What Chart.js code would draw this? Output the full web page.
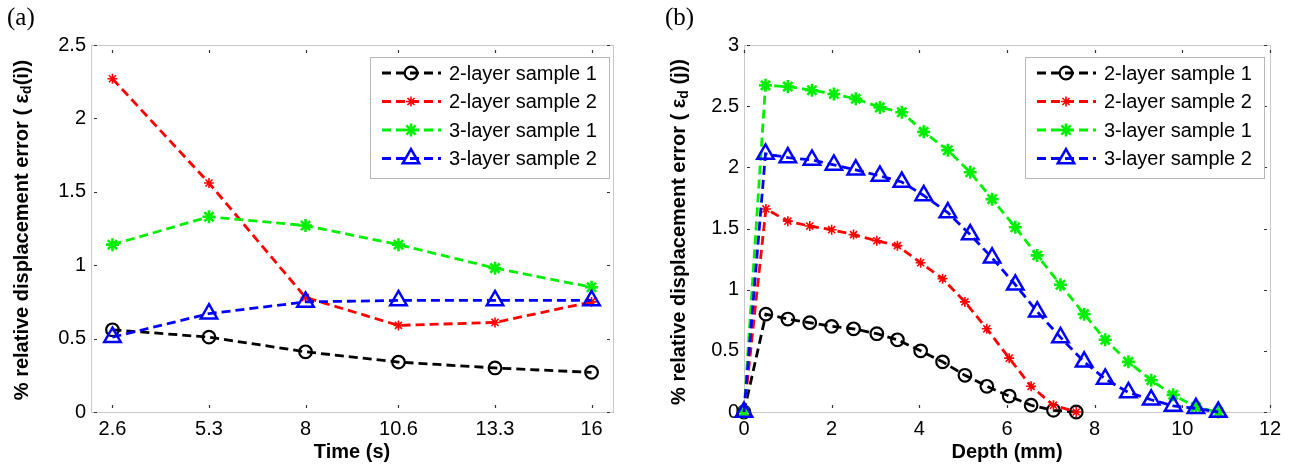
<!DOCTYPE html>
<html><head><meta charset="utf-8">
<script src="https://cdn.jsdelivr.net/npm/chart.js@4/dist/chart.umd.min.js"></script>
<style>
html,body{margin:0;padding:0;background:#fff;}
#wrap{position:relative;width:1296px;height:472px;overflow:hidden;}
.box{position:absolute;top:0;width:648px;height:472px;}
</style></head><body>
<div id="wrap">
<div class="box" style="left:0"><canvas id="ca" width="648" height="472"></canvas></div>
<div class="box" style="left:648px"><canvas id="cb" width="648" height="472"></canvas></div>
</div>
<script>
// ---------- data ----------
const seriesNames = ['2-layer sample 1', '2-layer sample 2', '3-layer sample 1', '3-layer sample 2'];

// (a) error vs time
const timeCategories = [2.6, 5.3, 8, 10.6, 13.3, 16];
const timeTickLabels = ['2.6', '5.3', '8', '10.6', '13.3', '16'];
const timeBlack = [0.56, 0.51, 0.41, 0.34, 0.30, 0.27];
const timeRed   = [2.27, 1.56, 0.78, 0.59, 0.61, 0.75];
const timeGreen = [1.14, 1.33, 1.27, 1.14, 0.98, 0.85];
const timeBlue  = [0.51, 0.67, 0.75, 0.76, 0.76, 0.76];

// (b) error vs depth
const depth2Layer = [0, 0.5, 1.0, 1.5, 2.0, 2.5, 3.03, 3.5, 4.03, 4.53, 5.04, 5.54, 6.05, 6.55, 7.06, 7.58];
const depth3Layer = [0, 0.49, 1.0, 1.55, 2.05, 2.55, 3.1, 3.6, 4.1, 4.65, 5.16, 5.66, 6.19, 6.69, 7.22, 7.76, 8.24, 8.77, 9.29, 9.79, 10.31, 10.82];
const depthBlack = [0, 0.80, 0.76, 0.73, 0.70, 0.68, 0.64, 0.59, 0.50, 0.41, 0.30, 0.21, 0.13, 0.055, 0.014, 0.0];
const depthRed   = [0, 1.66, 1.56, 1.52, 1.49, 1.45, 1.40, 1.36, 1.22, 1.09, 0.90, 0.68, 0.44, 0.21, 0.055, 0.0];
const depthGreen = [0, 2.67, 2.66, 2.63, 2.60, 2.56, 2.49, 2.45, 2.29, 2.14, 1.96, 1.74, 1.51, 1.28, 1.04, 0.80, 0.59, 0.41, 0.26, 0.14, 0.04, 0.0];
const depthBlue  = [0, 2.11, 2.08, 2.06, 2.02, 1.98, 1.93, 1.88, 1.77, 1.63, 1.45, 1.26, 1.04, 0.82, 0.61, 0.41, 0.27, 0.16, 0.10, 0.05, 0.03, 0.0];

const xTitleA = 'Time (s)';
const xTitleB = 'Depth (mm)';
const yTitleA = [{t: '% relative displacement error ( \u03B5'}, {t: 'd', sub: true}, {t: '(i))'}];
const yTitleB = [{t: '% relative displacement error ( \u03B5'}, {t: 'd', sub: true}, {t: ' (j))'}];
const panelA = '(a)';
const panelB = '(b)';

// ---------- styling ----------
const FONT = "'Liberation Sans', Arial, Helvetica, sans-serif";
const SERIF = "'Liberation Serif', 'Times New Roman', serif";
const styles = [
  {color: '#000000', pointStyle: 'circle',   radius: 6.3, pbw: 2.2, fill: 'rgba(0,0,0,0)', order: 4},
  {color: '#ff0000', pointStyle: 'star',     radius: 5,   pbw: 1.6, fill: 'rgba(0,0,0,0)', order: 3},
  {color: '#00ee00', pointStyle: 'star',     radius: 6.5, pbw: 2.6, fill: 'rgba(0,0,0,0)', order: 2},
  {color: '#0000ff', pointStyle: 'triangle', radius: 9.5, pbw: 2.5, fill: 'rgba(0,0,0,0)', order: 1}
];

function mkDataset(i, xs, ys) {
  const s = styles[i];
  return {
    label: seriesNames[i],
    data: xs.map((x, k) => ({x: x, y: ys[k]})),
    borderColor: s.color, backgroundColor: s.color,
    borderWidth: 2.8, borderDash: [9, 5], tension: 0,
    pointStyle: s.pointStyle, pointRadius: s.radius,
    pointBorderWidth: s.pbw, pointBorderColor: s.color, pointBackgroundColor: s.fill,
    order: s.order, clip: false
  };
}

function drawRich(ctx, parts, cx, cy) {
  ctx.save();
  ctx.translate(cx, cy);
  ctx.rotate(-Math.PI / 2);
  const big = 'bold 20px ' + FONT, small = 'bold 14px ' + FONT;
  const widths = parts.map(p => { ctx.font = p.sub ? small : big; return ctx.measureText(p.t).width; });
  const total = widths.reduce((a, b) => a + b, 0);
  let x = -total / 2;
  ctx.textBaseline = 'middle';
  ctx.fillStyle = '#000';
  parts.forEach((p, i) => {
    ctx.font = p.sub ? small : big;
    ctx.fillText(p.t, x, p.sub ? 5 : 0);
    x += widths[i];
  });
  ctx.restore();
}

const decor = {
  id: 'decor',
  beforeDatasetsDraw(chart, args, o) {
    const {ctx, chartArea: a, scales} = chart;
    ctx.save();
    ctx.strokeStyle = '#c8c8c8';
    ctx.lineWidth = 1;
    ctx.strokeRect(Math.round(a.left) + 0.5, Math.round(a.top) + 0.5, Math.round(a.right - a.left), Math.round(a.bottom - a.top));
    ctx.strokeStyle = '#333';
    ctx.lineWidth = 1.2;
    ctx.beginPath();
    scales.x.ticks.forEach(t => {
      const px = Math.round(scales.x.getPixelForValue(t.value)) + 0.5;
      ctx.moveTo(px, a.bottom - 4); ctx.lineTo(px, a.bottom - 7);
      ctx.moveTo(px, a.top + 5); ctx.lineTo(px, a.top + 8);
    });
    scales.y.ticks.forEach(t => {
      const py = Math.round(scales.y.getPixelForValue(t.value)) + 0.5;
      ctx.moveTo(a.left + 3, py); ctx.lineTo(a.left + 6, py);
      ctx.moveTo(a.right - 3, py); ctx.lineTo(a.right - 6, py);
    });
    ctx.stroke();
    ctx.restore();
  },
  afterDraw(chart, args, o) {
    const {ctx, chartArea: a} = chart;
    // legend
    const w = 239, h = 121;
    const x0 = Math.round(a.right - o.legendRight - w), y0 = Math.round(a.top + 12);
    ctx.save();
    ctx.fillStyle = '#fff';
    ctx.fillRect(x0, y0, w, h);
    ctx.strokeStyle = '#b8b8b8';
    ctx.lineWidth = 1;
    ctx.strokeRect(x0 + 0.5, y0 + 0.5, w, h);
    chart.data.datasets.forEach((d, i) => {
      const y = y0 + 16 + i * 28.5;
      ctx.save();
      ctx.strokeStyle = d.borderColor;
      ctx.lineWidth = d.borderWidth;
      ctx.setLineDash(d.borderDash);
      ctx.beginPath(); ctx.moveTo(x0 + 12, y); ctx.lineTo(x0 + 71, y); ctx.stroke();
      ctx.setLineDash([]);
      ctx.fillStyle = d.pointBackgroundColor;
      ctx.strokeStyle = d.pointBorderColor;
      ctx.lineWidth = d.pointBorderWidth;
      Chart.helpers.drawPoint(ctx, {pointStyle: d.pointStyle, radius: d.pointRadius, rotation: 0, borderWidth: d.pointBorderWidth}, x0 + 41, y);
      ctx.restore();
      ctx.fillStyle = '#000';
      ctx.font = '20px ' + FONT;
      ctx.textBaseline = 'middle';
      ctx.textAlign = 'left';
      ctx.fillText(d.label, x0 + 79, y + 1);
    });
    // y title
    drawRich(ctx, o.yTitle, o.yTitleX, o.yTitleY);
    // panel label
    ctx.fillStyle = '#000';
    ctx.font = '25px ' + SERIF;
    ctx.textBaseline = 'middle';
    ctx.textAlign = 'left';
    ctx.fillText(o.panel, o.panelX, 18);
    ctx.restore();
  }
};

function makeChart(id, cfg) {
  return new Chart(document.getElementById(id), {
    type: 'line',
    data: {datasets: cfg.datasets},
    plugins: [decor],
    options: {
      responsive: false, animation: false,
      layout: {padding: {left: 0, right: cfg.padRight, top: 45, bottom: 0}},
      plugins: {
        legend: {display: false}, tooltip: {enabled: false},
        decor: cfg.decor
      },
      scales: {
        x: {
          type: 'linear', min: cfg.xMin, max: cfg.xMax,
          afterFit: s => { s.height = 60; },
          afterBuildTicks: cfg.xTicks,
          grid: {display: false, drawTicks: false}, border: {display: false},
          ticks: {color: '#000', font: {family: FONT, size: 20}, padding: 5, maxRotation: 0, autoSkip: false, callback: cfg.xLabel, stepSize: cfg.xStep},
          title: {display: true, text: cfg.xTitle, color: '#000', font: {family: FONT, size: 20, weight: 'bold'}, padding: {top: 0, bottom: 8}}
        },
        y: {
          min: 0, max: cfg.yMax,
          afterFit: s => { s.width = cfg.yWidth; },
          grid: {display: false, drawTicks: false}, border: {display: false},
          ticks: {color: '#000', font: {family: FONT, size: 20}, padding: 5, stepSize: 0.5,
                  callback: v => String(Math.round(v * 10) / 10)}
        }
      }
    }
  });
}

makeChart('ca', {
  datasets: [
    mkDataset(0, timeCategories, timeBlack),
    mkDataset(1, timeCategories, timeRed),
    mkDataset(2, timeCategories, timeGreen),
    mkDataset(3, timeCategories, timeBlue)
  ],
  padRight: 35, yWidth: 91, xMin: 2, xMax: 16.6, yMax: 2.5, xStep: undefined,
  xTicks: s => { s.ticks = timeCategories.map(v => ({value: v})); },
  xLabel: (v, i) => timeTickLabels[i],
  xTitle: xTitleA,
  decor: {legendRight: 4, yTitle: yTitleA, yTitleX: 22, yTitleY: 230, panel: panelA, panelX: 7}
});

makeChart('cb', {
  datasets: [
    mkDataset(0, depth2Layer, depthBlack),
    mkDataset(1, depth2Layer, depthRed),
    mkDataset(2, depth3Layer, depthGreen),
    mkDataset(3, depth3Layer, depthBlue)
  ],
  padRight: 26, yWidth: 96, xMin: 0, xMax: 12, yMax: 3, xStep: 2,
  xTicks: undefined,
  xLabel: v => String(v),
  xTitle: xTitleB,
  decor: {legendRight: 6, yTitle: yTitleB, yTitleX: 31, yTitleY: 232, panel: panelB, panelX: 17}
});
</script>
</body></html>
